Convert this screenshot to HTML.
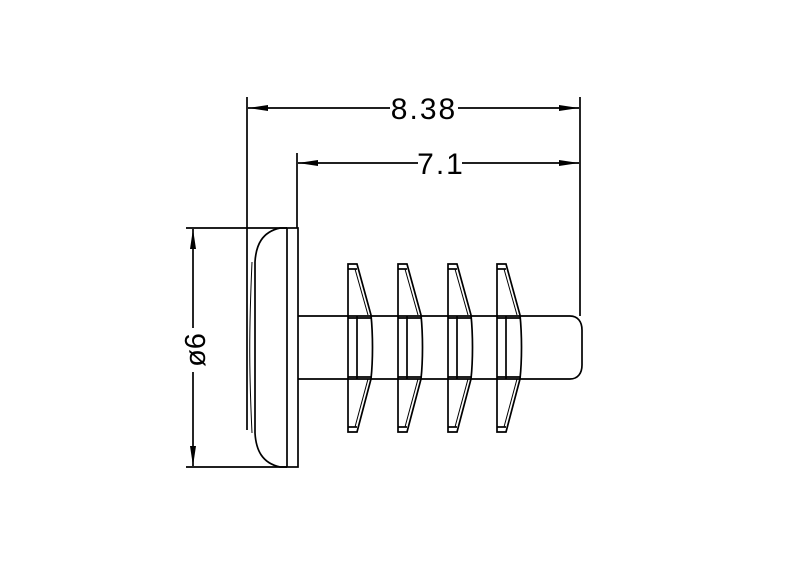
<!DOCTYPE html>
<html><head><style>body{margin:0;background:#fff}</style></head><body>
<svg width="800" height="576" viewBox="0 0 800 576" xmlns="http://www.w3.org/2000/svg" fill="none" stroke="#000" stroke-width="1.7">
<rect width="800" height="576" fill="#fff" stroke="none"/>
<defs>
<marker id="b" viewBox="0 0 20 6" refX="20" refY="3" markerWidth="20" markerHeight="6" orient="auto-start-reverse" markerUnits="userSpaceOnUse"><path d="M0,0L20,3L0,6z" fill="#000" stroke="none"/></marker></defs>
<line x1="247" y1="97" x2="247" y2="430"/>
<line x1="580" y1="97" x2="580" y2="316"/>
<line x1="297" y1="153" x2="297" y2="228"/>
<line x1="248" y1="108" x2="390" y2="108" marker-start="url(#b)"/>
<line x1="458" y1="108" x2="579" y2="108" marker-end="url(#b)"/>
<text x="424" y="119" font-family="Liberation Sans, sans-serif" font-size="30" letter-spacing="2" fill="#000" stroke="none" text-anchor="middle">8.38</text>
<line x1="298" y1="163" x2="418" y2="163" marker-start="url(#b)"/>
<line x1="462" y1="163" x2="579" y2="163" marker-end="url(#b)"/>
<text x="441" y="174" font-family="Liberation Sans, sans-serif" font-size="30" letter-spacing="2" fill="#000" stroke="none" text-anchor="middle">7.1</text>
<line x1="186" y1="228" x2="287" y2="228"/>
<line x1="186" y1="467" x2="287" y2="467"/>
<line x1="193" y1="229" x2="193" y2="328" marker-start="url(#b)"/>
<line x1="193" y1="372" x2="193" y2="466" marker-end="url(#b)"/>
<text transform="translate(205,350) rotate(-90)" font-family="Liberation Sans, sans-serif" font-size="29" fill="#000" stroke="none" text-anchor="middle">ø6</text>
<rect x="287" y="228" width="11" height="239"/>
<path d="M287,228 L280,228 C262,232 256,245 255,262 L255,433 C256,450 262,463 280,467 L287,467"/>
<path d="M252,262 C249,330 249,370 252,433" stroke-width="1"/>
<path d="M298,316 L570,316 C578,316 582,322 582,330 L582,365 C582,373 578,379 570,379 L298,379"/>
<g id="f">
<path d="M348,264 L357,264 L371,315 C373,335 373,360 371,379 L357,432 L348,432 Z"/>
<line x1="348" y1="269" x2="357" y2="269"/>
<line x1="348" y1="427" x2="357" y2="427"/>
<path d="M355,269 L368,315 M355,427 L368,379" stroke-width="1"/>
<line x1="357" y1="316" x2="357" y2="379"/>
<line x1="348" y1="318" x2="371" y2="318"/>
<line x1="348" y1="377" x2="371" y2="377"/>
</g>
<use href="#f" x="50"/>
<use href="#f" x="100"/>
<use href="#f" x="149"/>
</svg>
</body></html>
